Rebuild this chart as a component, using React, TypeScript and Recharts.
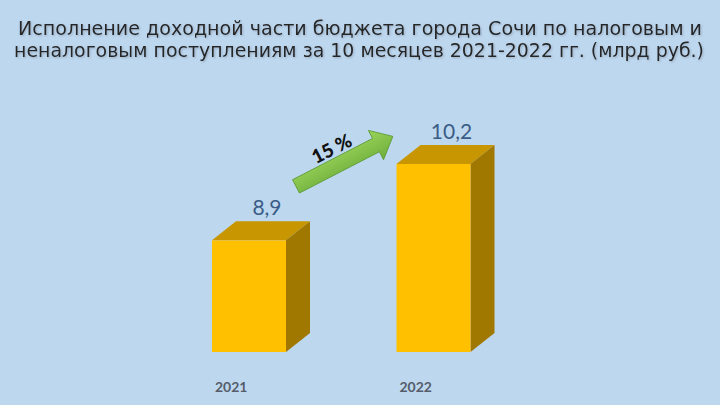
import { Bar, BarChart, LabelList, XAxis, YAxis } from "recharts";

const years = ["2021", "2022"];
const revenue = [8.9, 10.2];
const growthLabel = "15 %";
const titleLines = [
  "Исполнение доходной части бюджета города Сочи по налоговым и",
  "неналоговым поступлениям за 10 месяцев 2021-2022 гг. (млрд руб.)",
];

const data = years.map((y, i) => ({ year: y, value: revenue[i] }));

const DX = 24;
const DY = 19;

function Bar3D(props: any) {
  const { x, y, width, height, index } = props;
  const front = "#FFC000";
  const top = "#C89600";
  const side = "#A07800";
  return (
    <g>
      <polygon
        points={`${x},${y} ${x + DX},${y - DY} ${x + width + DX},${y - DY} ${x + width},${y}`}
        fill={top}
      />
      <polygon
        points={`${x + width},${y} ${x + width + DX},${y - DY} ${x + width + DX},${y + height - DY} ${x + width},${y + height}`}
        fill={side}
      />
      <rect x={x} y={y} width={width} height={height} fill={front} />
      {index === 0 && <GrowthArrow x={x} y={y} />}
    </g>
  );
}

// annotation arrow, anchored to the first bar's top
function GrowthArrow({ x, y }: { x: number; y: number }) {
  const L = 109;
  const tx = x + 84;
  const ty = y - 54;
  return (
    <g>
      <defs>
        <linearGradient id="arrowGrad" x1="0" y1="0" x2="0" y2="1">
          <stop offset="0%" stopColor="#9BD45A" />
          <stop offset="100%" stopColor="#6DAE3C" />
        </linearGradient>
      </defs>
      <polygon
        transform={`translate(${tx},${ty}) rotate(-27.3)`}
        points={`0,-7.5 ${L - 19},-7.5 ${L - 19},-16.5 ${L},0 ${L - 19},16.5 ${L - 19},7.5 0,7.5`}
        fill="url(#arrowGrad)"
        stroke="#5C9A33"
        strokeWidth={0.8}
      />
      <text
        transform={`translate(${x + 120},${y - 91}) rotate(-27)`}
        textAnchor="middle"
        dy={6}
        fontFamily="Lato, 'Open Sans', sans-serif"
        fontWeight={900}
        fontSize={19}
        fill="#111"
      >
        {growthLabel}
      </text>
    </g>
  );
}

function ValueLabel(props: any) {
  const { x, y, width, value } = props;
  return (
    <text
      x={x + width / 2 + 18}
      y={y - 25}
      textAnchor="middle"
      fontFamily="Lato, 'Open Sans', sans-serif"
      fontSize={21}
      fill="#3A5C86"
    >
      {String(value).replace(".", ",")}
    </text>
  );
}

function YearTick(props: any) {
  const { x, y, payload } = props;
  return (
    <text
      x={x - 18}
      y={y + 38}
      textAnchor="middle"
      fontFamily="Lato, 'Open Sans', sans-serif"
      fontWeight={700}
      fontSize={14}
      fill="#555D6B"
    >
      {payload.value}
    </text>
  );
}

export default function App() {
  return (
    <div
      style={{
        position: "absolute",
        left: 0,
        top: 0,
        width: 720,
        height: 405,
        background: "#BDD7EE",
        overflow: "hidden",
      }}
    >
      <svg width={720} height={70} style={{ position: "absolute", left: 0, top: 0 }}>
        <defs>
          <filter id="titleShadow" x="-5%" y="-30%" width="110%" height="160%">
            <feDropShadow dx="1" dy="1" stdDeviation="0.8" floodColor="#7f8fa3" floodOpacity="0.6" />
          </filter>
        </defs>
        {titleLines.map((t, i) => (
          <text
            key={i}
            x={i === 0 ? 18 : 14}
            y={35 + i * 22}
            textLength={i === 0 ? 684 : 690}
            lengthAdjust="spacingAndGlyphs"
            fontFamily="'Liberation Sans Narrow', 'DejaVu Sans Condensed', 'Liberation Sans', sans-serif"
            fontSize={20}
            fill="#262626"
            filter="url(#titleShadow)"
          >
            {t}
          </text>
        ))}
      </svg>
      <div style={{ position: "absolute", left: 0, top: 0 }}>
        <BarChart
          width={720}
          height={405}
          data={data}
          margin={{ top: 117, right: 194, bottom: 53, left: 157 }}
        >
          <XAxis
            dataKey="year"
            axisLine={false}
            tickLine={false}
            tickSize={0}
            height={0.01}
            tick={<YearTick />}
            interval={0}
          />
          <YAxis hide domain={[7, 11]} allowDataOverflow />
          <Bar
            dataKey="value"
            barSize={74}
            shape={<Bar3D />}
            isAnimationActive={false}
          >
            <LabelList dataKey="value" content={<ValueLabel />} />
          </Bar>
        </BarChart>
      </div>
    </div>
  );
}
